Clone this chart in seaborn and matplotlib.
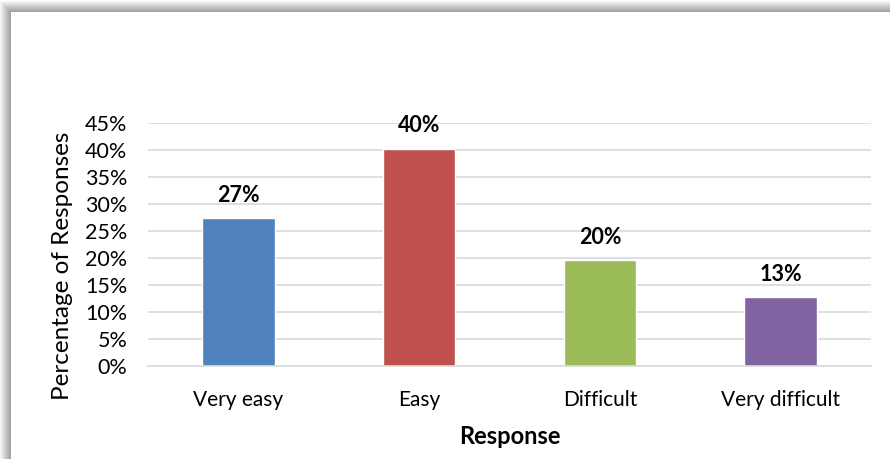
import matplotlib
matplotlib.use("Agg")
import matplotlib.pyplot as plt
from matplotlib.patches import Rectangle
from matplotlib.ticker import FuncFormatter
import seaborn as sns
import pandas as pd

# Survey results
responses = ["Very easy", "Easy", "Difficult", "Very difficult"]
percentages = [27.4, 40.2, 19.6, 12.7]
bar_colors = ["#4f81bd", "#c0504d", "#9bbb59", "#8064a2"]
y_ticks = [0, 5, 10, 15, 20, 25, 30, 35, 40, 45]

df = pd.DataFrame({"Response": responses, "Percentage": percentages})

sns.set_theme(style="white")
plt.rcParams["font.family"] = ["Lato", "DejaVu Sans"]

W, H = 890, 459
fig = plt.figure(figsize=(W / 100, H / 100), dpi=100)

# Framed chart area with a soft shadowed border
bg = fig.add_axes([0, 0, 1, 1], zorder=-1)
bg.set_xlim(0, W)
bg.set_ylim(H, 0)
bg.axis("off")
band = 11
for i in range(band + 1):
    g = 0.96 - 0.36 * i / band
    bg.add_patch(Rectangle((i, i + 1), W + 50, H + 50, facecolor=(g, g, g), edgecolor="none"))
bg.add_patch(Rectangle((band, band + 1), W + 50, H + 50, facecolor="white", edgecolor="none"))

ax = fig.add_axes([148 / W, 1 - 366 / H, (871 - 148) / W, (366 - 123) / H])
sns.barplot(data=df, x="Response", y="Percentage", hue="Response",
            palette=bar_colors, width=0.40, legend=False, saturation=1, ax=ax)

ax.set_ylim(0, 45)
ax.set_yticks(y_ticks)
ax.yaxis.set_major_formatter(FuncFormatter(lambda v, p: f"{v:.0f}%"))
ax.grid(axis="y", color="#d9d9d9", linewidth=1.2)
ax.set_axisbelow(True)
for s in ["top", "right", "left"]:
    ax.spines[s].set_visible(False)
ax.spines["bottom"].set_color("#d9d9d9")
ax.spines["bottom"].set_linewidth(1.2)
ax.tick_params(axis="y", length=0, pad=15, labelsize=15.5, labelcolor="black")
ax.tick_params(axis="x", length=0, pad=17, labelsize=15, labelcolor="black")

# Axis titles
ax.set_ylabel("")
fig.text(63 / W, 1 - 266 / H, "Percentage of Responses", rotation=90,
         ha="center", va="center", fontsize=17.5, color="black")
ax.set_xlabel("Response", fontsize=17, fontweight="bold", color="black")
ax.xaxis.set_label_coords(0.5, (366 - 425) / (366 - 123))
ax.xaxis.label.set_va("top")

for i, v in enumerate(percentages):
    ax.annotate(f"{v:.0f}%", (i, v), xytext=(0, 9), textcoords="offset points",
                ha="center", va="bottom", fontsize=15.5, fontweight="bold", color="black")

fig.savefig("out.png", dpi=100)
